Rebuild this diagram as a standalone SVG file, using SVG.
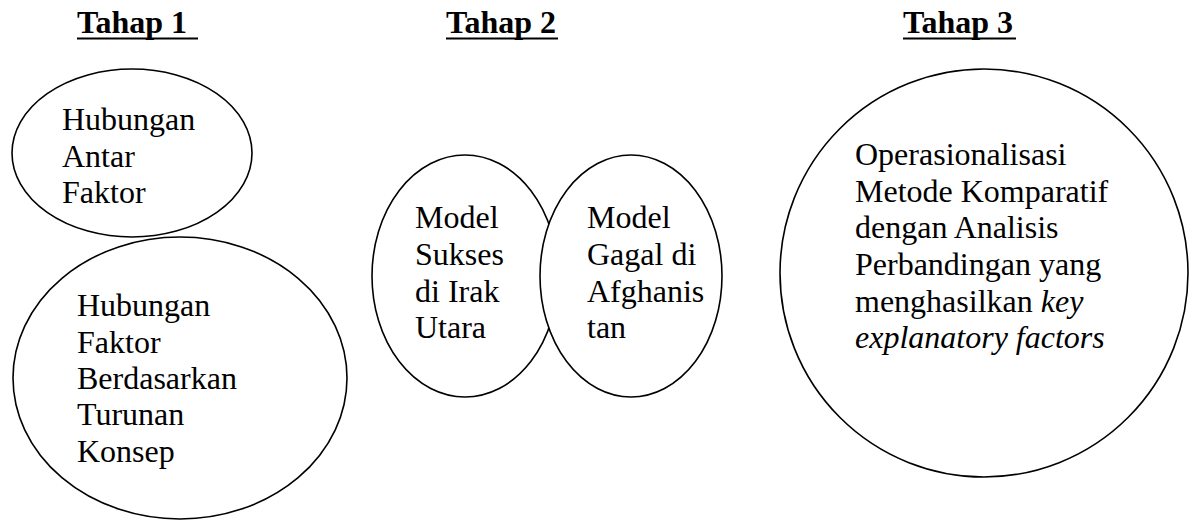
<svg xmlns="http://www.w3.org/2000/svg" width="1194" height="523" viewBox="0 0 1194 523">
<style>
text{font-family:'Liberation Serif','DejaVu Serif',serif;font-size:32px;fill:#000}
.h{font-weight:bold}
.s{fill:#fff;stroke:#000;stroke-width:1.6}
.u{stroke:#000;stroke-width:2.2}
</style>
<rect width="1194" height="523" fill="#fff"/>
<g id="headings" font-family="Liberation Serif">
<text class="h" x="77" y="33">Tahap 1</text>
<line class="u" x1="77" y1="38.5" x2="198" y2="38.5"/>
<text class="h" x="446" y="33">Tahap 2</text>
<line class="u" x1="446" y1="38.5" x2="558" y2="38.5"/>
<text class="h" x="903" y="33">Tahap 3</text>
<line class="u" x1="903" y1="38.5" x2="1016" y2="38.5"/>
</g>
<g id="node-antar">
<ellipse class="s" cx="132" cy="153" rx="120" ry="84"/>
<text x="62" y="130">Hubungan</text>
<text x="62" y="167">Antar</text>
<text x="62" y="203">Faktor</text>
</g>
<g id="node-turunan">
<ellipse class="s" cx="180" cy="378" rx="167" ry="141"/>
<text x="77" y="316">Hubungan</text>
<text x="77" y="353">Faktor</text>
<text x="77" y="389">Berdasarkan</text>
<text x="77" y="425">Turunan</text>
<text x="77" y="462">Konsep</text>
</g>
<g id="node-sukses">
<ellipse class="s" cx="465" cy="276" rx="93" ry="121"/>
<text x="415" y="228">Model</text>
<text x="415" y="265">Sukses</text>
<text x="415" y="302">di Irak</text>
<text x="415" y="338">Utara</text>
</g>
<g id="node-gagal">
<ellipse class="s" cx="631" cy="276" rx="91" ry="121"/>
<text x="587" y="228">Model</text>
<text x="587" y="265">Gagal di</text>
<text x="587" y="302">Afghanis</text>
<text x="587" y="338">tan</text>
</g>
<g id="node-operasionalisasi">
<ellipse class="s" cx="984" cy="273" rx="204" ry="204"/>
<text x="855" y="165">Operasionalisasi</text>
<text x="855" y="202">Metode Komparatif</text>
<text x="855" y="238">dengan Analisis</text>
<text x="855" y="275">Perbandingan yang</text>
<text x="855" y="312">menghasilkan <tspan font-style="italic">key</tspan></text>
<text x="855" y="348" font-style="italic">explanatory factors</text>
</g>
<g id="connectors"></g>
</svg>
